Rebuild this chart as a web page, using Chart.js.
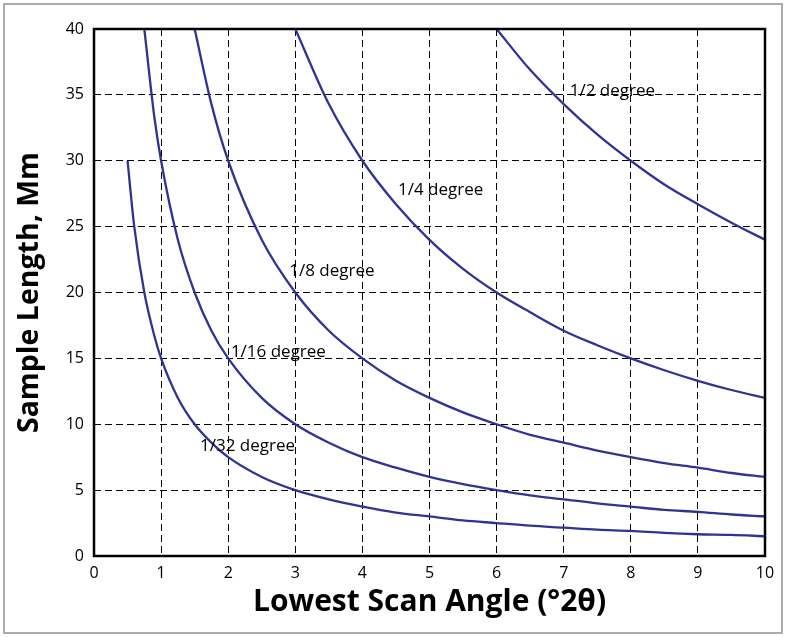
<!DOCTYPE html>
<html>
<head>
<meta charset="utf-8">
<script src="https://cdn.jsdelivr.net/npm/chart.js@4"></script>
<style>
  html, body { margin: 0; padding: 0; background: #fff; }
  #wrap { width: 786px; height: 637px; position: relative; }
</style>
</head>
<body>
<div id="wrap"><canvas id="chart" width="786" height="637"></canvas></div>
<script>
// Lowest scan angle (°2θ) sample points
const angles = [0.5, 0.6, 0.75, 0.9, 1, 1.25, 1.5, 1.75, 2, 2.5, 3, 3.5, 4, 4.5, 5, 5.5, 6, 6.5, 7, 7.5, 8, 8.5, 9, 9.5, 10];

// Sample length (mm), null where the curve is off the plot
const len32 = [30, 25, 20, 16.7, 15, 12, 10, 8.6, 7.5, 6, 5, 4.3, 3.75, 3.3, 3, 2.7, 2.5, 2.3, 2.15, 2, 1.9, 1.75, 1.65, 1.6, 1.5];
const len16 = [null, null, 40, 33.3, 30, 24, 20, 17.1, 15, 12, 10, 8.6, 7.5, 6.7, 6, 5.45, 5, 4.6, 4.3, 4, 3.75, 3.5, 3.35, 3.15, 3];
const len8 = [null, null, null, null, null, null, 40, 34.3, 30, 24, 20, 17.1, 15, 13.3, 12, 10.9, 10, 9.2, 8.6, 8, 7.5, 7.05, 6.7, 6.3, 6];
const len4 = [null, null, null, null, null, null, null, null, null, null, 40, 34.3, 30, 26.7, 24, 21.8, 20, 18.5, 17.1, 16, 15, 14.1, 13.3, 12.6, 12];
const len2 = [null, null, null, null, null, null, null, null, null, null, null, null, null, null, null, null, 40, 36.9, 34.3, 32, 30, 28.2, 26.7, 25.3, 24];

const seriesNames = ['1/32 degree', '1/16 degree', '1/8 degree', '1/4 degree', '1/2 degree'];
const seriesData = [len32, len16, len8, len4, len2];

// where each curve's name sits (data coordinates, left edge / middle)
const labelX = [1.58, 2.04, 2.91, 4.53, 7.09];
const labelY = [8.3, 15.45, 21.6, 27.8, 35.3];

const xTicks = [0, 1, 2, 3, 4, 5, 6, 7, 8, 9, 10];
const yTicks = [0, 5, 10, 15, 20, 25, 30, 35, 40];

const lineColor = '#2e3494';
const fontFamily = '"Open Sans", "DejaVu Sans", sans-serif';

const datasets = seriesData.map((vals, i) => ({
    label: seriesNames[i],
    data: angles.map((a, j) => ({ x: a, y: vals[j] })),
    borderColor: lineColor,
    borderWidth: 2.3,
    pointRadius: 0,
    fill: false,
    spanGaps: false,
    cubicInterpolationMode: 'monotone'
}));

// frame, outer border and curve names
const decorations = {
    id: 'decorations',
    beforeDraw(chart) {
        const ctx = chart.ctx;
        ctx.save();
        ctx.fillStyle = '#fff';
        ctx.fillRect(0, 0, chart.width, chart.height);
        ctx.strokeStyle = '#acacac';
        ctx.lineWidth = 2;
        ctx.strokeRect(4, 4, chart.width - 8, chart.height - 8);
        ctx.restore();
    },
    afterDatasetsDraw(chart) {
        const ctx = chart.ctx;
        const a = chart.chartArea;
        const xs = chart.scales.x, ys = chart.scales.y;
        ctx.save();
        ctx.font = '17px ' + fontFamily;
        ctx.fillStyle = '#000';
        ctx.textAlign = 'left';
        ctx.textBaseline = 'middle';
        seriesNames.forEach((name, i) => {
            ctx.fillText(name, xs.getPixelForValue(labelX[i]), ys.getPixelForValue(labelY[i]));
        });
        ctx.strokeStyle = '#000';
        ctx.lineWidth = 2.5;
        ctx.strokeRect(a.left, a.top, a.right - a.left, a.bottom - a.top);
        ctx.restore();
    }
};

new Chart(document.getElementById('chart'), {
    type: 'line',
    data: { datasets: datasets },
    plugins: [decorations],
    options: {
        responsive: false,
        animation: false,
        layout: { padding: { top: 29, right: 21, bottom: 0, left: 0 } },
        plugins: {
            legend: { display: false },
            tooltip: { enabled: false }
        },
        scales: {
            x: {
                type: 'linear',
                min: 0,
                max: 10,
                afterFit(scale) { scale.height = 81; },
                afterBuildTicks(scale) { scale.ticks = xTicks.map(v => ({ value: v })); },
                grid: {
                    color: '#000',
                    lineWidth: 1,
                    drawTicks: false
                },
                border: { display: false, dash: [7, 4] },
                ticks: {
                    color: '#000',
                    padding: 8,
                    font: { family: fontFamily, size: 16 }
                },
                title: {
                    display: true,
                    text: 'Lowest Scan Angle (°2θ)',
                    color: '#000',
                    font: { family: fontFamily, size: 30, weight: 'bold' },
                    padding: { top: 0, bottom: 17 }
                }
            },
            y: {
                type: 'linear',
                min: 0,
                max: 40,
                afterFit(scale) { scale.width = 94; },
                afterBuildTicks(scale) { scale.ticks = yTicks.map(v => ({ value: v })); },
                grid: {
                    color: '#000',
                    lineWidth: 1,
                    drawTicks: false
                },
                border: { display: false, dash: [7, 4] },
                ticks: {
                    color: '#000',
                    padding: 10,
                    font: { family: fontFamily, size: 16 }
                },
                title: {
                    display: true,
                    text: 'Sample Length, Mm',
                    color: '#000',
                    font: { family: fontFamily, size: 28.5, weight: 'bold' },
                    padding: { top: 13, bottom: 0 }
                }
            }
        }
    }
});
</script>
</body>
</html>
